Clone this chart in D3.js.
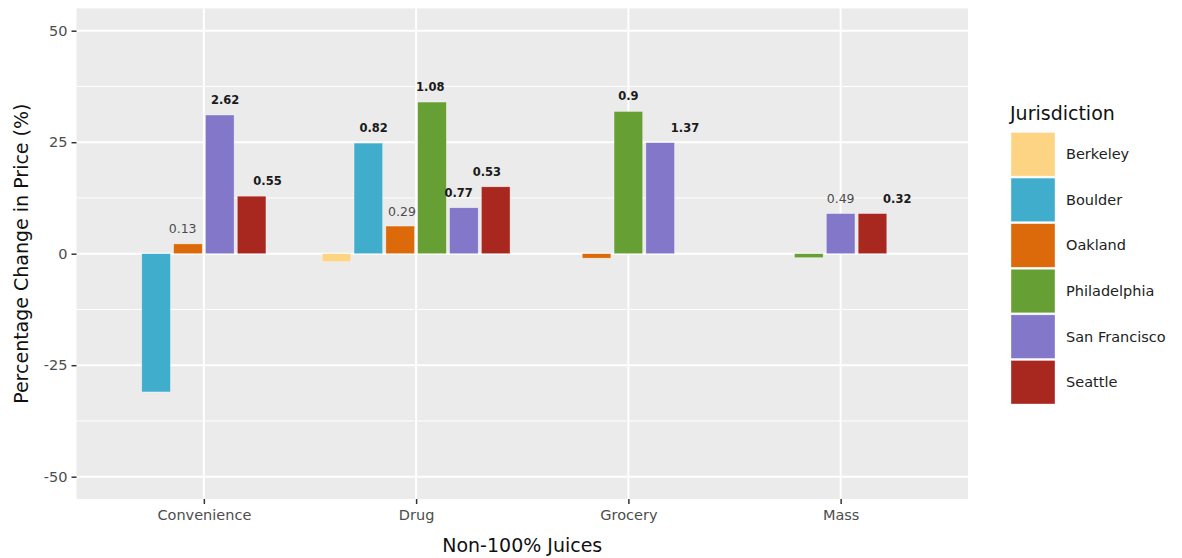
<!DOCTYPE html>
<html><head><meta charset="utf-8">
<script src="https://cdn.jsdelivr.net/npm/d3@7"></script>
<style>body{margin:0;background:#fff}svg{display:block}text{font-family:"DejaVu Sans",sans-serif}</style>
</head><body><svg id="c" width="1182" height="558"></svg>
<script>
const categories = ["Convenience","Drug","Grocery","Mass"];
const jurisdictions = ["Berkeley","Boulder","Oakland","Philadelphia","San Francisco","Seattle"];
const colors = ["#FDD483","#41ADCC","#DD6A0A","#66A034","#8277C8","#A8271F"];
const berkeley     = [null, -1.8, null, null];
const boulder      = [-31.0, 24.8, null, null];
const oakland      = [2.2, 6.2, -1.0, null];
const philadelphia = [null, 34.0, 31.9, -0.9];
const sanFrancisco = [31.1, 10.3, 24.9, 9.0];
const seattle      = [12.9, 15.0, null, 9.0];
const berkeleyLbl     = [null, null, null, null];
const boulderLbl      = [null, "0.82", null, null];
const oaklandLbl      = ["0.13", "0.29", null, null];
const philadelphiaLbl = [null, "1.08", "0.9", null];
const sanFranciscoLbl = ["2.62", "0.77", "1.37", "0.49"];
const seattleLbl      = ["0.55", "0.53", null, "0.32"];
const berkeleyBold     = [false,false,false,false];
const boulderBold      = [false,true,false,false];
const oaklandBold      = [false,false,false,false];
const philadelphiaBold = [false,true,true,false];
const sanFranciscoBold = [true,true,true,false];
const seattleBold      = [true,true,false,true];
const yTicks = [-50,-25,0,25,50];
const yMinor = [-37.5,-12.5,12.5,37.5];

const values = [berkeley,boulder,oakland,philadelphia,sanFrancisco,seattle];
const labels = [berkeleyLbl,boulderLbl,oaklandLbl,philadelphiaLbl,sanFranciscoLbl,seattleLbl];
const bolds = [berkeleyBold,boulderBold,oaklandBold,philadelphiaBold,sanFranciscoBold,seattleBold];

const svg = d3.select("#c");
const P = {l:76.5, r:968, t:8.4, b:499};
const x = d3.scalePoint().domain(categories).range([P.l,P.r]).padding(0.6);
const y = d3.scaleLinear().domain([-55,55]).range([P.b,P.t]);
const band = x.step();

svg.append("rect").attr("x",P.l).attr("y",P.t).attr("width",P.r-P.l).attr("height",P.b-P.t).attr("fill","#EBEBEB");
svg.append("g").selectAll("line").data(yMinor).join("line")
  .attr("x1",P.l).attr("x2",P.r).attr("y1",d=>y(d)).attr("y2",d=>y(d)).attr("stroke","#fff").attr("stroke-width",1);
svg.append("g").selectAll("line").data(yTicks).join("line")
  .attr("x1",P.l).attr("x2",P.r).attr("y1",d=>y(d)).attr("y2",d=>y(d)).attr("stroke","#fff").attr("stroke-width",2);
svg.append("g").selectAll("line").data(categories).join("line")
  .attr("y1",P.t).attr("y2",P.b).attr("x1",d=>x(d)).attr("x2",d=>x(d)).attr("stroke","#fff").attr("stroke-width",2);

// build bars
const bars = [], lbls = [];
categories.forEach((c,ci)=>{
  const present = [];
  jurisdictions.forEach((j,ji)=>{ if(values[ji][ci]!==null) present.push(ji); });
  const n = present.length;
  const slot = 0.9*band/6;
  present.forEach((ji,i)=>{
    const v = values[ji][ci];
    const cx = x(c) + (i-(n-1)/2)*slot;
    bars.push({cx, w:slot*0.9, v, color:colors[ji]});
    if(labels[ji][ci]!==null){
      const lx = x(c) + (i-(n-1)/2)*0.8*band/n;
      lbls.push({x:lx, v, text:labels[ji][ci], bold:bolds[ji][ci]});
    }
  });
});
svg.append("g").selectAll("rect").data(bars).join("rect")
  .attr("x",d=>d.cx-d.w/2).attr("width",d=>d.w)
  .attr("y",d=>y(Math.max(0,d.v))).attr("height",d=>Math.abs(y(d.v)-y(0)))
  .attr("fill",d=>d.color).attr("stroke","#fff").attr("stroke-opacity",0.6).attr("stroke-width",0.6);
svg.append("g").selectAll("text").data(lbls).join("text")
  .attr("x",d=>d.x).attr("y",d=>y(d.v)-15).attr("text-anchor","middle").attr("dominant-baseline","central")
  .attr("font-size",d=>d.bold?11.5:12.5).attr("font-weight",d=>d.bold?"bold":"normal")
  .attr("fill",d=>d.bold?"#1a1a1a":"#4d4d4d").text(d=>d.text);

// axes
const ya = svg.append("g").attr("transform",`translate(${P.l},0)`)
  .call(d3.axisLeft(y).tickValues(yTicks).tickFormat(d=>String(d)).tickSize(5).tickPadding(4));
ya.select(".domain").remove();
ya.selectAll("line").attr("stroke","#333").attr("stroke-width",1.5);
ya.selectAll("text").attr("font-size",14.5).attr("fill","#4d4d4d").attr("font-family","DejaVu Sans");
const xa = svg.append("g").attr("transform",`translate(0,${P.b})`)
  .call(d3.axisBottom(x).tickSize(5).tickPadding(6));
xa.select(".domain").remove();
xa.selectAll("line").attr("stroke","#333").attr("stroke-width",1.5);
xa.selectAll("text").attr("font-size",14.5).attr("fill","#4d4d4d").attr("font-family","DejaVu Sans");

svg.append("text").attr("x",(P.l+P.r)/2).attr("y",545).attr("text-anchor","middle").attr("dominant-baseline","central")
  .attr("font-size",19).attr("fill","#111").text("Non-100% Juices");
svg.append("text").attr("transform",`translate(21,${(P.t+P.b)/2}) rotate(-90)`).attr("text-anchor","middle").attr("dominant-baseline","central")
  .attr("font-size",19).attr("fill","#111").text("Percentage Change in Price (%)");

// legend
const lg = svg.append("g");
lg.append("text").attr("x",1010).attr("y",113).attr("dominant-baseline","central").attr("font-size",19).attr("fill","#111").text("Jurisdiction");
const ky = d3.scaleBand().domain(jurisdictions).range([131.5,405]).paddingInner(0);
lg.selectAll("rect").data(jurisdictions).join("rect")
  .attr("x",1011).attr("y",d=>ky(d)+1).attr("width",44).attr("height",ky.bandwidth()-2)
  .attr("fill",(d,i)=>colors[i]).attr("stroke","#fff").attr("stroke-opacity",0.6).attr("stroke-width",0.6);
lg.selectAll("text.l").data(jurisdictions).join("text").attr("class","l")
  .attr("x",1066).attr("y",d=>ky(d)+ky.bandwidth()/2).attr("dominant-baseline","central")
  .attr("font-size",14.5).attr("fill","#222").text(d=>d);
</script></body></html>
